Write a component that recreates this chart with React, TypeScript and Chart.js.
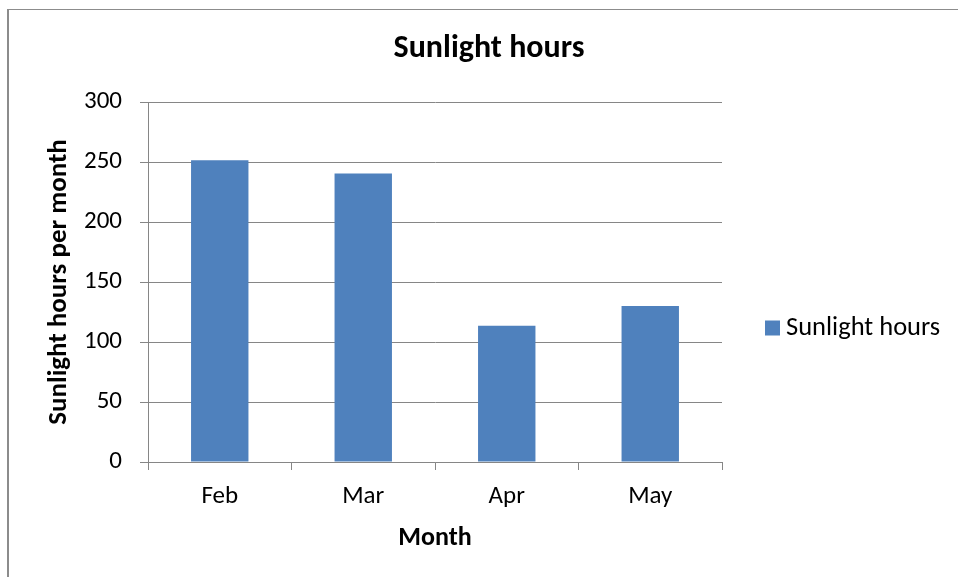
import React, { useEffect, useRef } from "react";
import { Chart, registerables } from "chart.js";

Chart.register(...registerables);

const categories = ["Feb", "Mar", "Apr", "May"];
const sunlightHours = [251.5, 240.5, 113.5, 130];
const seriesLabel = "Sunlight hours";
const chartTitle = "Sunlight hours";
const xAxisTitle = "Month";
const yAxisTitle = "Sunlight hours per month";
const yMin = 0;
const yMax = 300;
const yStep = 50;

const FONT = "Carlito, Lato, sans-serif";
const GRID = "#868686";
const BAR = "#4F81BD";

const legendPlugin = {
  id: "sideLegend",
  afterDraw(chart: any) {
    const { ctx, chartArea } = chart;
    const ds = chart.data.datasets;
    ctx.save();
    ctx.font = `normal 26.5px ${FONT}`;
    ctx.textBaseline = "middle";
    ds.forEach((d: any, i: number) => {
      const cy = chartArea.top + 226 + i * 30;
      const x = chartArea.right + 43;
      ctx.fillStyle = d.backgroundColor;
      ctx.fillRect(x, cy - 7.5, 15, 15);
      ctx.fillStyle = "#000";
      ctx.fillText(d.label, x + 21, cy);
    });
    ctx.restore();
  },
};

export default function App() {
  const ref = useRef<HTMLCanvasElement | null>(null);
  useEffect(() => {
    const canvas = ref.current!;
    const chart = new Chart(canvas, {
      type: "bar",
      data: {
        labels: categories,
        datasets: [
          {
            label: seriesLabel,
            data: sunlightHours,
            backgroundColor: BAR,
            borderWidth: 0,
            barPercentage: 0.4,
            categoryPercentage: 1,
          },
        ],
      },
      options: {
        animation: false,
        responsive: false,
        devicePixelRatio: 1,
        layout: { padding: 0 },
        plugins: {
          legend: { display: false },
          tooltip: { enabled: false },
          title: {
            display: true,
            text: chartTitle,
            color: "#000",
            font: { family: FONT, size: 32, weight: "bold", lineHeight: 1.2 },
            padding: { top: 29.4, bottom: 34.2 },
          },
        },
        scales: {
          x: {
            type: "category",
            grid: {
              display: true,
              drawOnChartArea: false,
              drawTicks: true,
              tickLength: 8,
              color: GRID,
              offset: true,
            },
            border: { display: true, color: GRID },
            ticks: { color: "#000", font: { family: FONT, size: 25 }, padding: 12 },
            title: {
              display: true,
              text: xAxisTitle,
              color: "#000",
              font: { family: FONT, size: 26, weight: "bold", lineHeight: 1.2 },
              padding: { top: 0, bottom: 23 },
            },
            afterFit: (s: any) => {
              s.height = 115;
            },
          },
          y: {
            type: "linear",
            min: yMin,
            max: yMax,
            grid: { color: GRID, tickLength: 8, drawTicks: true },
            border: { display: true, color: GRID },
            ticks: {
              stepSize: yStep,
              color: "#000",
              font: { family: FONT, size: 25 },
              padding: 18,
            },
            title: {
              display: true,
              text: yAxisTitle,
              color: "#000",
              font: { family: FONT, size: 27, weight: "bold", lineHeight: 1.2 },
              padding: { top: 43.4, bottom: 0 },
            },
            afterFit: (s: any) => {
              s.width = 148;
            },
          },
          pad: {
            type: "linear",
            position: "right",
            display: true,
            grid: { display: false },
            border: { display: false },
            ticks: { display: false },
            afterFit: (s: any) => {
              s.width = 256;
            },
          },
        },
      },
      plugins: [legendPlugin],
    });
    return () => chart.destroy();
  }, []);
  return (
    <div style={{ position: "absolute", left: 0, top: 0, width: 958, height: 577, overflow: "hidden", background: "#fff" }}>
      <div
        style={{
          position: "absolute",
          left: 7,
          top: 9,
          width: 2000,
          height: 2000,
          borderLeft: "2px solid #8c8c8c",
          borderTop: "1px solid #8c8c8c",
        }}
      />
      <canvas ref={ref} width={978} height={577} style={{ position: "absolute", left: 0, top: 0, display: "block" }} />
    </div>
  );
}
